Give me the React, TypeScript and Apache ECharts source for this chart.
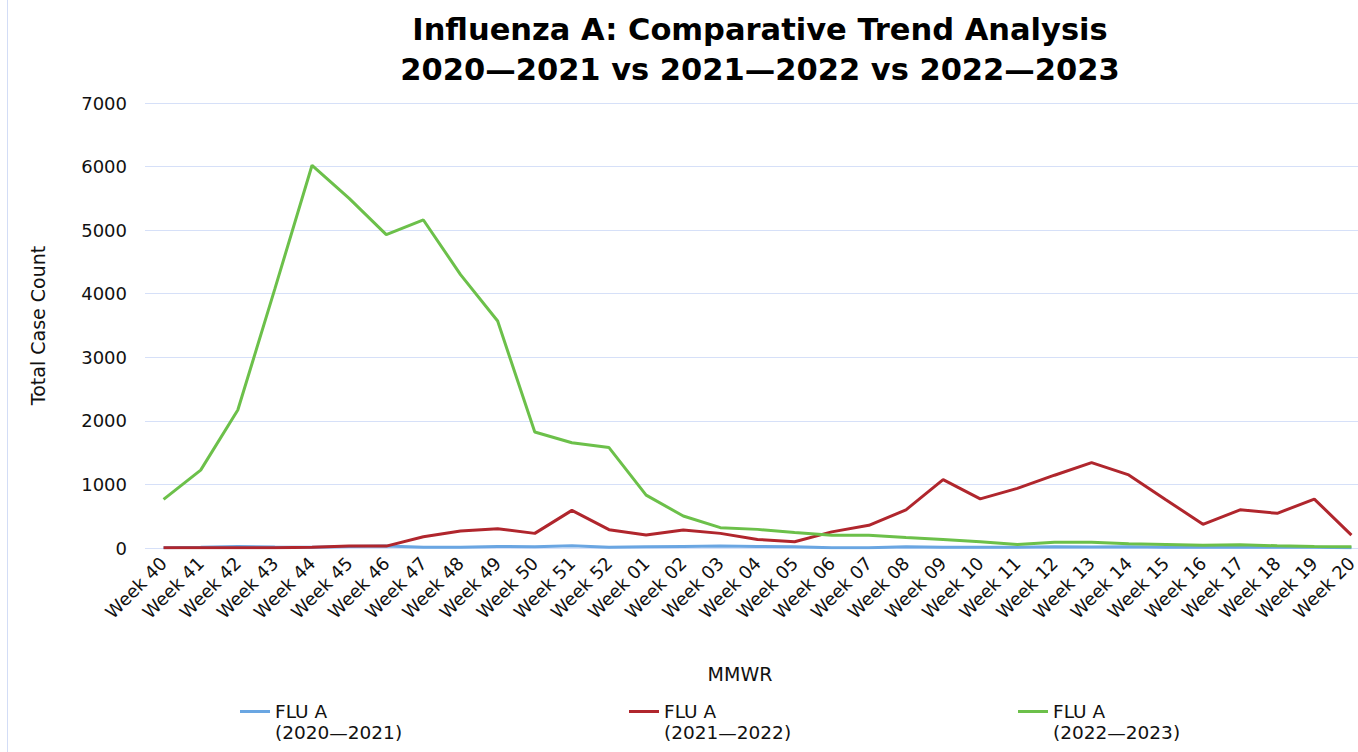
import React, { useEffect, useRef } from "react";
import * as echarts from "echarts";

const weeks = [
  "Week 40", "Week 41", "Week 42", "Week 43", "Week 44", "Week 45", "Week 46", "Week 47",
  "Week 48", "Week 49", "Week 50", "Week 51", "Week 52", "Week 01", "Week 02", "Week 03",
  "Week 04", "Week 05", "Week 06", "Week 07", "Week 08", "Week 09", "Week 10", "Week 11",
  "Week 12", "Week 13", "Week 14", "Week 15", "Week 16", "Week 17", "Week 18", "Week 19",
  "Week 20",
];

const flu2020 = [
  5, 10, 25, 15, 10, 25, 30, 10, 10, 25, 20, 35, 10, 20, 25, 30,
  25, 20, 5, 5, 20, 10, 10, 10, 20, 15, 20, 10, 10, 10, 10, 10, 5,
];

const flu2021 = [
  5, 5, 5, 5, 10, 30, 30, 178, 267, 304, 230, 592, 288, 204, 283, 230,
  135, 98, 254, 357, 601, 1075, 772, 938, 1145, 1342, 1150, 760, 373, 600, 545, 770, 202,
];

const flu2022 = [
  764, 1225, 2170, 4080, 6020, 5500, 4930, 5160, 4300, 3570, 1825, 1655, 1580, 832, 503, 320,
  293, 243, 202, 200, 165, 135, 100, 55, 90, 90, 65, 55, 45, 50, 35, 25, 20,
];

const seriesNames = ["FLU A\n(2020—2021)", "FLU A\n(2021—2022)", "FLU A\n(2022—2023)"];
const seriesColors = ["#6aa6e2", "#b0262d", "#6cc04a"];

const font = "'DejaVu Sans', Verdana, sans-serif";

export default function App() {
  const ref = useRef<HTMLDivElement>(null);

  useEffect(() => {
    if (!ref.current) return;
    const chart = echarts.init(ref.current, undefined, { renderer: "svg" });
    const datas = [flu2020, flu2021, flu2022];
    const legendLefts = [240, 629, 1018];
    chart.setOption({
      animation: false,
      backgroundColor: "#ffffff",
      title: {
        text: "Influenza A: Comparative Trend Analysis\n2020—2021 vs 2021—2022 vs 2022—2023",
        left: 755,
        textAlign: "center",
        top: 4,
        textStyle: {
          fontFamily: font,
          fontWeight: "bold",
          fontSize: 30.5,
          lineHeight: 40,
          color: "#000",
        },
      },
      legend: seriesNames.map((n, i) => ({
        data: [n],
        left: legendLefts[i],
        top: 701,
        padding: 0,
        icon: "path://M0,0L30,0L30,3L0,3Z M0,24L0,24Z",
        itemWidth: 30,
        itemHeight: 24,
        itemStyle: { borderWidth: 0 },
        textStyle: {
          fontFamily: font,
          fontSize: 18.5,
          lineHeight: 21,
          color: "#111",
        },
      })),
      grid: {
        left: 145,
        top: 103,
        height: 445,
        width: 1225,
        containLabel: false,
      },
      xAxis: {
        type: "category",
        data: weeks,
        boundaryGap: true,
        name: "MMWR",
        nameLocation: "middle",
        nameGap: 116,
        nameTextStyle: { fontFamily: font, fontSize: 19, color: "#111", padding: [0, 35, 0, 0] },
        axisLine: { show: false },
        axisTick: { show: false },
        axisLabel: {
          rotate: 45,
          interval: 0,
          margin: 12,
          fontFamily: font,
          fontSize: 18,
          color: "#111",
        },
      },
      yAxis: {
        type: "value",
        min: 0,
        max: 7000,
        interval: 1000,
        name: "Total Case Count",
        nameLocation: "middle",
        nameGap: 98,
        nameTextStyle: { fontFamily: font, fontSize: 19, color: "#111" },
        axisLine: { show: false },
        axisTick: { show: false },
        axisLabel: {
          margin: 18,
          fontFamily: font,
          fontSize: 18,
          color: "#111",
          formatter: (v: number) => String(v),
        },
        splitLine: { lineStyle: { color: "#d6e0f8", width: 1 } },
      },
      graphic: [
        {
          type: "line",
          shape: { x1: 7.5, y1: 0, x2: 7.5, y2: 752 },
          style: { stroke: "#d3ddf6", lineWidth: 1 },
          silent: true,
        },
      ],
      series: seriesNames.map((n, i) => ({
        name: n,
        type: "line",
        data: datas[i],
        showSymbol: false,
        symbol: "none",
        lineStyle: { color: seriesColors[i], width: 3 },
        itemStyle: { color: seriesColors[i] },
        z: i + 2,
      })),
    });
    return () => chart.dispose();
  }, []);

  return (
    <div
      ref={ref}
      style={{ position: "fixed", left: 0, top: 0, width: 1376, height: 752 }}
    />
  );
}
